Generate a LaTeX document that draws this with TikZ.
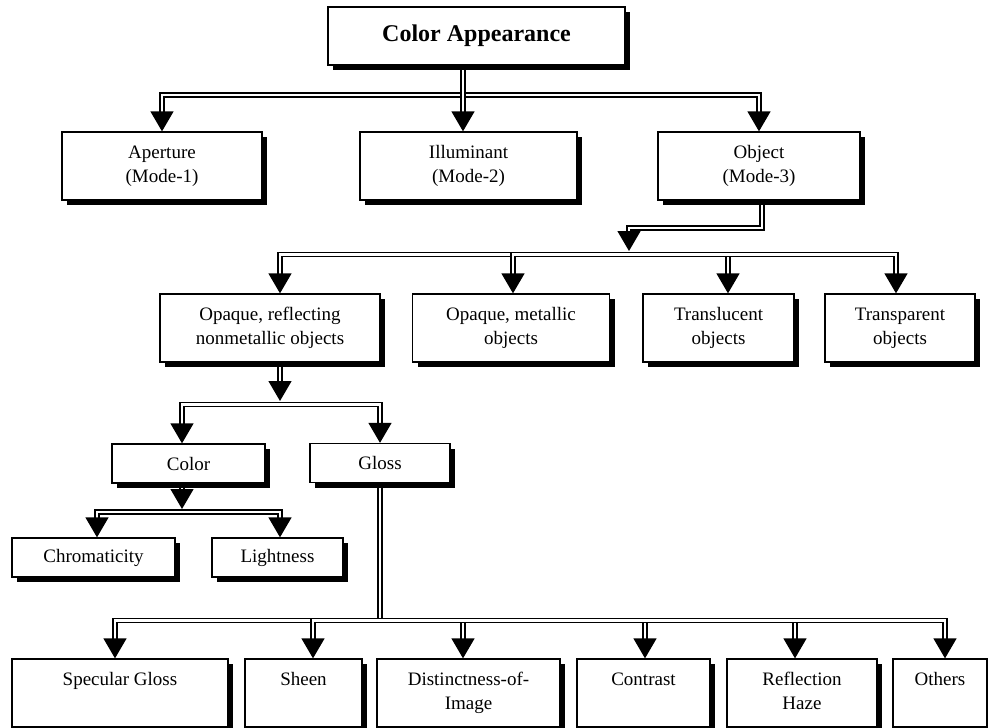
\documentclass[tikz,border=0pt]{standalone}
\usepackage{fontspec}
\setmainfont{Liberation Serif}
\usetikzlibrary{shadows,arrows.meta}
\pgfdeclarelayer{bg}
\pgfsetlayers{bg,main}
\begin{document}
\begin{tikzpicture}[x=1pt,y=-1pt,
  box/.style={draw, line width=1.3pt, fill=white, minimum height=68pt, align=center,
    inner sep=0pt, font=\fontsize{19}{23.5}\selectfont,
    general shadow={fill=black, shadow xshift=5pt, shadow yshift=-5pt}},
  lowbox/.style={box, minimum height=39pt},
  pipe/.style={double, line width=1.35pt, double distance=2.4pt},
  conn/.style={pipe, -{Triangle[length=20pt,width=23pt]}},
]
\useasboundingbox (0,0) rectangle (988,728);

% nodes
\node[box, minimum width=297pt, minimum height=58pt, font=\bfseries\fontsize{24}{28}\selectfont] (ca) at (476.5,36) {Color Appearance};
\node[box, minimum width=200pt] (ap) at (162,166) {\strut Aperture\\(Mode-1)\strut};
\node[box, minimum width=217pt] (il) at (468.5,166) {\strut Illuminant\\(Mode-2)\strut};
\node[box, minimum width=202pt] (ob) at (759,166) {\strut Object\\(Mode-3)\strut};

\node[box, minimum width=220pt] (onm) at (270,328) {\strut Opaque, reflecting\\nonmetallic objects\strut};
\node[box, minimum width=197pt] (om) at (511,328) {\strut Opaque, metallic\\objects\strut};
\node[box, minimum width=151pt] (tl) at (718.5,328) {\strut Translucent\\objects\strut};
\node[box, minimum width=150pt] (tp) at (900,328) {\strut Transparent\\objects\strut};

\node[lowbox, minimum width=153pt] (col) at (188.5,463.5) {Color};
\node[lowbox, minimum width=140pt] (gl) at (380,463) {Gloss};
\node[lowbox, minimum width=163pt] (chr) at (93.5,557.5) {Chromaticity};
\node[lowbox, minimum width=131pt] (li) at (277.5,557.5) {Lightness};

\node[box, minimum width=216pt] (sg) at (120,693) {\strut Specular Gloss\\\strut};
\node[box, minimum width=117pt] (sh) at (303.5,693) {\strut Sheen\\\strut};
\node[box, minimum width=183pt] (di) at (468.5,693) {\strut Distinctness-of-\\Image\strut};
\node[box, minimum width=133pt] (co) at (643.5,693) {\strut Contrast\\\strut};
\node[box, minimum width=150pt] (rh) at (802,693) {\strut Reflection\\Haze\strut};
\node[box, minimum width=94pt] (ot) at (940,693) {\strut Others\\\strut};

% junction coordinates
\coordinate (b1) at (463,95);
\coordinate (o1) at (629,228);
\coordinate (b3) at (629,254.5);
\coordinate (b3t) at (629,251);
\coordinate (b4) at (280,404.5);
\coordinate (b4t) at (280,401);
\coordinate (b5) at (182,512);
\coordinate (b5t) at (182,509);
\coordinate (b6) at (380,620.5);

\begin{pgfonlayer}{bg}
\draw[conn] (ca.south -| b1) -- (b1) -| (ap.north);
\draw[conn] (ca.south -| b1) -- (b1) -| (ob.north);
\draw[conn] (ca.south -| b1) -- (il.north -| b1);

\draw[conn] ([xshift=3pt]ob.south) |- (o1) -- (b3t);
\draw[conn] (b3) -| ([xshift=10pt]onm.north);
\draw[conn] (b3) -| ([xshift=2pt]om.north);
\draw[conn] (b3) -| ([xshift=9.5pt]tl.north);
\draw[conn] (b3) -| ([xshift=-4pt]tp.north);

\draw[conn] ([xshift=10pt]onm.south) -- (b4t);
\draw[conn] (b4) -| ([xshift=-6.5pt]col.north);
\draw[conn] (b4) -| (gl.north);

\draw[conn] ([xshift=-6.5pt]col.south) -- (b5t);
\draw[conn] (b5) -| ([xshift=3.5pt]chr.north);
\draw[conn] (b5) -| ([xshift=2.5pt]li.north);

\draw[pipe] (gl.south) -- (b6);
\draw[conn] (b6) -| ([xshift=-5pt]sg.north);
\draw[conn] (b6) -| ([xshift=9.5pt]sh.north);
\draw[conn] (b6) -| ([xshift=-5.5pt]di.north);
\draw[conn] (b6) -| ([xshift=1.5pt]co.north);
\draw[conn] (b6) -| ([xshift=-7pt]rh.north);
\draw[conn] (b6) -| ([xshift=5pt]ot.north);
\end{pgfonlayer}
\end{tikzpicture}
\end{document}
